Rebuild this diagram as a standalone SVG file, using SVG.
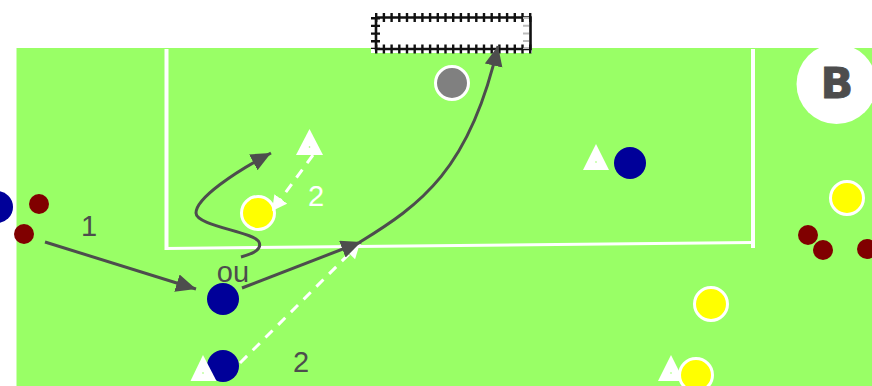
<svg xmlns="http://www.w3.org/2000/svg" width="872" height="386" viewBox="0 0 872 386">
<style>
.lbl{font-family:"Liberation Sans",Arial,sans-serif;font-size:29px;fill:#4d4d4d;text-anchor:middle}
.line{fill:none;stroke:#fff}
.c{fill:none;stroke:#4d4d4d;stroke-width:3}
.d{fill:none;stroke:#fff;stroke-width:3;stroke-dasharray:10 8}
.blue{fill:#009;stroke:none}
.mar{fill:#800000}
.yel{fill:#ff0;stroke:#fff;stroke-width:3}
.tri{fill:#fff}
.dot{fill:#9f6}
.gt{stroke:#111;fill:none;stroke-dasharray:2.4 5.3}
.gl{stroke:#111;stroke-width:2.600;fill:none}
</style>
<defs>
<marker id="ah" markerUnits="userSpaceOnUse" markerWidth="22" markerHeight="20" refX="20" refY="9" orient="auto"><path d="M0,0L20,9L0,18z" fill="#4d4d4d"/></marker>
<marker id="aw" markerUnits="userSpaceOnUse" markerWidth="18" markerHeight="18" refX="15" refY="8" orient="auto"><path d="M0,0L15,8L0,16z" fill="#fff"/></marker>
</defs>
<rect id="pitch" x="16.500" y="48" width="856" height="338" fill="#9f6"/>
<g id="field-lines">
<path class="line" stroke-width="3" d="M165,248.500L753,242.500"/>
<path class="line" stroke-width="4" d="M166.500,49V250"/>
<path class="line" stroke-width="4" d="M753,49V248"/>
</g>
<g id="goal">
<rect x="371" y="13" width="161" height="40" fill="#fff"/>
<path class="gl" d="M376,17.500H530.500V49H376V17.500"/>
<path class="gt" d="M375,17.500H532" stroke-width="9"/>
<path class="gt" d="M375,49H532" stroke-width="9"/>
<path class="gt" d="M375.500,17V49" stroke-width="9"/>
<path d="M526,17V49" fill="none" stroke="#bbb" stroke-width="6" stroke-dasharray="2 5.7"/>
</g>
<g id="badge-b">
<circle cx="836.500" cy="84" r="40" fill="#fff"/>
<text x="837" y="98" font-family="DejaVu Sans, sans-serif" font-size="43" font-weight="700" text-anchor="middle" fill="#4d4d4d" stroke="#4d4d4d" stroke-width=".8">B</text>
</g>
<g id="keeper"><circle cx="452" cy="83" r="16.500" fill="#808080" stroke="#fff" stroke-width="3"/></g>
<g id="connectors">
<path class="d" d="M240,363L360,243" marker-end="url(#aw)"/>
<path class="c" d="M45,242L196,289" marker-end="url(#ah)"/>
<path class="c" d="M241,257C255,253 262,249 259,242C255,232 196,226 196,213C196,198 235,172 271,153" marker-end="url(#ah)"/>
<path class="c" d="M242,288L361,242" marker-end="url(#ah)"/>
<path class="c" d="M360,242C420,205 470,170 498,46" marker-end="url(#ah)"/>
</g>
<g id="blue-1"><circle class="blue" cx="223" cy="299" r="16"/></g>
<g id="blue-2"><circle class="blue" cx="223" cy="366" r="16"/></g>
<g id="blue-3"><circle class="blue" cx="630" cy="163" r="16"/></g>
<g id="blue-4"><circle class="blue" cx="-3" cy="207" r="16"/></g>
<g id="maroon-1"><circle class="mar" cx="39" cy="204" r="10"/></g>
<g id="maroon-2"><circle class="mar" cx="24" cy="234" r="10"/></g>
<g id="maroon-3"><circle class="mar" cx="808" cy="235" r="10"/></g>
<g id="maroon-4"><circle class="mar" cx="823" cy="250" r="10"/></g>
<g id="maroon-5"><circle class="mar" cx="867" cy="249" r="10"/></g>
<g id="cone-1"><path class="tri" d="M309.500,129L296,155H323z"/><circle class="dot" cx="309.500" cy="147" r=".8"/></g>
<g id="cone-2"><path class="tri" d="M596,144L583,170H609z"/><circle class="dot" cx="596" cy="162" r=".8"/></g>
<g id="cone-3"><path class="tri" d="M671,355L658,381H684z"/><circle class="dot" cx="671" cy="373" r=".8"/></g>
<g id="cone-4"><path class="tri" d="M203,355L190.500,381H216.500z"/><circle class="dot" cx="203" cy="373" r=".8"/></g>
<g id="yellow-1"><circle class="yel" cx="258" cy="213" r="16.500"/></g>
<g id="yellow-2"><circle class="yel" cx="711" cy="304" r="16.500"/></g>
<g id="yellow-3"><circle class="yel" cx="696" cy="375" r="16.500"/></g>
<g id="yellow-4"><circle class="yel" cx="847" cy="198" r="16.500"/></g>
<g id="connector-over"><path class="d" d="M313,155L272,211" marker-end="url(#aw)"/></g>
<g id="labels">
<text class="lbl" x="89" y="236">1</text>
<text class="lbl" x="233" y="282">ou</text>
<text class="lbl" x="301" y="372">2</text>
<text class="lbl" x="316" y="206" style="fill:#fff">2</text>
</g>
</svg>
